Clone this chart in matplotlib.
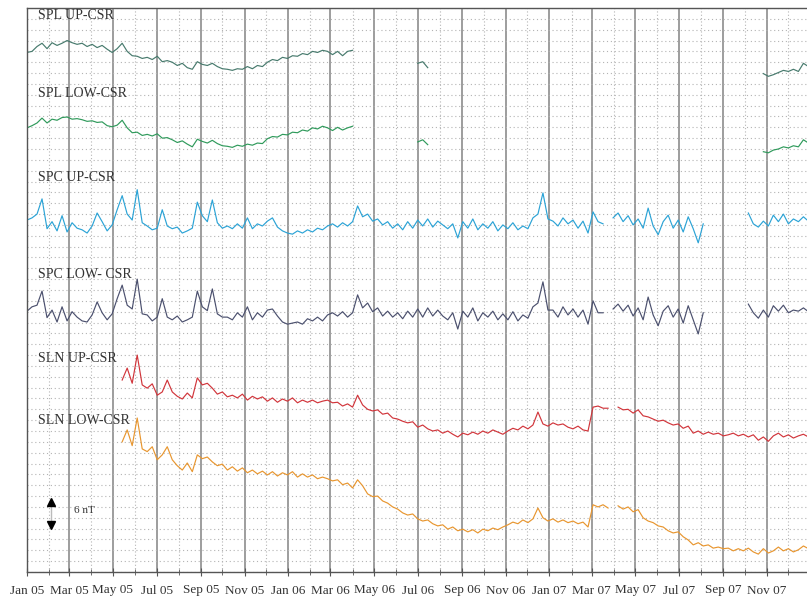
import numpy as np
import pandas as pd
import matplotlib
matplotlib.use("Agg")
import matplotlib.pyplot as plt
import matplotlib.dates as mdates

nan = np.nan

# weekly samples, Jan 2005 - Dec 2007, values in nT (anomaly of each trace)
weeks = pd.date_range("2005-01-01", periods=157, freq="7D")

spl_up = ([0.0, 0.2, 1.1, 1.7, 0.7, 1.8, 1.3, 1.7, 2.2, 1.8,
           1.5, 1.7, 1.1, 1.5, 0.9, 1.3, 0.6, 0.0, 0.7, 1.7,
           0.2, -0.6, -0.7, -1.1, -0.9, -1.3, -0.7, -1.7, -1.5, -1.8,
           -2.4, -2.0, -2.8, -3.1, -1.7, -2.2, -2.4, -2.0, -2.6, -3.0,
           -3.1, -3.3, -3.0, -3.1, -2.6, -3.0, -2.4, -2.6, -1.8, -1.3,
           -1.5, -0.9, -1.1, -0.6, -0.7, -0.2, -0.4, 0.2, 0.0, 0.4,
           0.2, -0.4, 0.2, -0.6, 0.2, 0.4]
          + [nan] * 12 + [-2.0, -1.7, -2.8] + [nan] * 66
          + [-3.9, -4.4, -4.1, -3.7, -3.3, -3.5, -3.1, -3.5, -2.0, -2.6])

spl_low = ([0.0, 0.4, 0.9, 1.8, 0.9, 1.6, 1.4, 1.9, 2.0, 1.6,
            1.7, 1.5, 1.2, 1.3, 1.0, 1.1, 0.4, 0.2, 0.5, 1.4,
            0.0, -0.9, -0.8, -1.4, -1.2, -1.5, -1.1, -1.9, -1.8, -2.2,
            -2.7, -2.4, -3.0, -3.5, -2.1, -2.5, -2.8, -2.3, -2.9, -3.3,
            -3.4, -3.6, -3.2, -3.4, -3.0, -3.2, -2.8, -2.9, -2.0, -1.6,
            -1.7, -1.2, -1.3, -0.8, -0.9, -0.4, -0.6, 0.0, -0.2, 0.3,
            0.0, -0.5, 0.1, -0.4, 0.0, 0.3]
           + [nan] * 12 + [-2.6, -2.2, -3.1] + [nan] * 66
           + [-4.4, -4.6, -4.1, -3.9, -3.5, -3.7, -3.3, -3.5, -2.2, -2.8])

spc_up = [0.9, 1.3, 2.0, 4.8, -0.7, 0.6, -1.1, 1.7, -1.3, 0.4,
          -0.6, -0.9, -1.5, -0.2, 2.2, 0.6, -1.1, 0.0, 2.8, 5.4,
          2.0, 0.9, 6.5, 0.4, -0.2, -0.9, -0.6, 2.8, -0.2, -0.7,
          -0.4, -1.5, -1.1, -0.6, 4.2, 1.7, 0.6, 4.6, 0.4, -0.6,
          -0.2, -0.7, 0.2, -0.6, 1.3, -0.7, 0.2, -0.2, 0.7, 1.3,
          -0.4, -1.1, -1.5, -1.7, -1.1, -1.5, -0.9, -1.3, -0.6, -0.9,
          -0.2, 0.2, -0.4, 0.4, -0.2, 0.6, 3.5, 1.5, 2.0, 0.7,
          1.1, 0.0, 0.6, -0.6, 0.2, -0.9,
          0.6, -0.6, 0.9, -0.2, 1.1, -0.4, 0.7, 0.0, -0.7, 0.2,
          -2.4, 0.6, -0.6, 1.1, -0.9, 0.2, -0.6, 0.6, -1.1, 0.0,
          -0.7, 0.4, -0.9, -0.2, -0.7, 1.3, 2.0, 5.9, 1.1, 0.7,
          -0.2, 1.3, 0.2, 0.9, -0.6, 0.7, -1.5, 2.4, 0.6, 0.2,
          nan, 1.3, 2.2, 0.6, 1.7, 0.0, 1.1, -0.6, 3.1, -0.2,
          -1.8, 0.6, 1.8, -0.6, 0.9, -1.3, 1.5, -0.7, -3.3, 0.2,
          nan, nan, nan, nan, nan, nan, nan, nan,
          2.2, 0.2, -0.4, 0.7, -0.2, 1.8, 0.6, 2.0, 0.2, 1.1, 0.6, 1.5, 0.7]

spc_low = [0.7, 1.5, 1.8, 4.4, -0.5, 0.9, -1.3, 1.5, -1.1, 0.6,
           -0.4, -1.1, -1.3, 0.0, 2.4, 0.4, -0.9, 0.2, 3.0, 5.5,
           1.8, 1.1, 6.6, 0.2, 0.0, -1.1, -0.4, 3.0, -0.4, -0.9,
           -0.2, -1.3, -0.9, -0.4, 4.4, 1.5, 0.8, 4.8, 0.2, -0.4,
           -0.4, -0.9, 0.4, -0.4, 1.5, -0.9, 0.4, -0.4, 0.9, 1.1,
           -0.2, -1.3, -1.7, -1.5, -1.3, -1.7, -0.7, -1.1, -0.4, -1.1,
           0.0, 0.4, -0.2, 0.6, -0.4, 0.4, 3.7, 1.3, 2.2, 0.6,
           1.3, -0.2, 0.7, -0.4, 0.4, -0.7,
           0.7, -0.4, 1.1, -0.4, 1.3, -0.2, 0.9, -0.2, -0.9, 0.4,
           -2.6, 0.7, -0.4, 1.3, -1.1, 0.4, -0.4, 0.7, -0.9, 0.2,
           -0.9, 0.6, -1.1, 0.0, -0.6, 1.5, 2.2, 6.1, 0.9, 0.9,
           -0.4, 1.5, 0.0, 1.1, -0.4, 0.9, -1.7, 2.6, 0.4, 0.4,
           nan, 1.1, 2.0, 0.7, 1.8, -0.2, 1.3, -0.9, 3.3, 0.0,
           -2.0, 0.7, 1.7, -0.4, 1.1, -1.5, 1.7, -0.9, -3.5, 0.4,
           nan, nan, nan, nan, nan, nan, nan, nan,
           2.0, 0.4, -0.6, 0.9, -0.4, 1.7, 0.7, 1.8, 0.4, 0.9, 0.7, 1.3, 0.6]

sln_up = [nan] * 19 + [
    0.0, 2.2, -0.6, 4.6, -0.9, -1.5, -0.7, -2.8, -2.2, 0.0,
    -2.2, -3.0, -3.5, -2.4, -3.3, 0.4, -0.9, -0.6, -1.5, -2.6,
    -2.2, -3.1, -2.8, -3.3, -2.6, -3.7, -3.0, -3.5, -3.1, -3.9,
    -3.3, -4.1, -3.5, -3.9, -3.3, -4.2, -3.7, -4.1, -3.7, -4.2,
    -3.9, -3.7, -4.2, -4.1, -4.8, -4.4, -5.0, -2.8, -4.6, -5.4,
    -5.7, -5.5, -6.3, -6.1, -7.0, -7.2, -7.6, -7.9, -7.7, -8.7,
    -8.3, -9.0, -9.4, -9.2, -9.8, -9.4, -10.0, -10.5, -9.8, -10.1,
    -9.6, -10.0, -9.4, -9.8, -9.2, -9.6, -10.0, -9.4, -8.9, -9.2,
    -8.5, -9.0, -8.3, -5.9, -8.1, -8.5, -7.9, -8.3, -8.1, -8.7,
    -9.0, -8.5, -9.2, -9.4, -5.0, -4.8, -5.2, -5.2, nan, -5.0,
    -5.5, -5.4, -6.1, -5.5, -6.6, -6.8, -7.2, -7.6, -7.4, -7.9,
    -8.3, -8.1, -8.9, -8.5, -9.8, -9.4, -10.0, -9.6, -10.0, -9.8,
    -10.3, -10.1, -9.8, -10.3, -10.0, -10.5, -10.1, -11.1, -10.5, -11.3,
    -10.3, -9.8, -10.5, -10.1, -10.7, -10.3, -10.0, -10.5]

sln_low = [nan] * 19 + [
    0.0, 2.2, -0.7, 4.4, -1.3, -1.8, -0.9, -3.3, -2.4, -0.9,
    -3.3, -4.4, -5.2, -3.9, -5.5, -2.4, -3.1, -2.8, -3.7, -4.4,
    -4.1, -5.2, -4.6, -5.4, -4.8, -5.7, -5.2, -5.9, -5.4, -6.1,
    -5.5, -6.3, -5.7, -6.1, -5.5, -6.5, -5.9, -6.5, -6.1, -6.8,
    -6.5, -6.8, -7.2, -7.0, -7.9, -7.6, -8.5, -7.0, -8.1, -9.6,
    -10.1, -10.0, -10.9, -11.3, -12.0, -12.4, -13.1, -13.5, -13.3, -14.2,
    -14.6, -14.4, -15.1, -15.5, -15.3, -16.1, -15.7, -16.4, -16.1, -16.6,
    -16.2, -16.8, -16.1, -16.4, -15.9, -16.2, -15.7, -15.3, -14.8, -15.1,
    -14.4, -14.9, -14.2, -12.2, -14.0, -14.6, -14.2, -14.8, -14.4, -14.9,
    -14.6, -15.1, -14.8, -15.7, -11.6, -12.0, -11.6, -12.2, nan, -11.8,
    -12.4, -12.0, -12.9, -12.5, -14.0, -14.6, -14.9, -15.5, -15.7, -16.4,
    -16.8, -16.6, -17.5, -18.1, -19.0, -18.6, -19.2, -19.0, -19.6, -19.4,
    -19.7, -19.6, -20.1, -19.7, -20.1, -19.6, -20.3, -20.7, -19.7, -20.5,
    -20.1, -19.4, -20.1, -19.7, -20.3, -19.9, -19.2, -19.7]

names = ["SPL UP-CSR", "SPL LOW-CSR", "SPC UP-CSR",
         "SPC LOW- CSR", "SLN UP-CSR", "SLN LOW-CSR"]
series = [spl_up, spl_low, spc_up, spc_low, sln_up, sln_low]

# layout: vertical offset of each trace (nT) and label height (axes fraction)
offsets = [95.8, 81.9, 64.0, 47.4, 35.4, 24.0]
label_y = [0.987, 0.849, 0.699, 0.527, 0.379, 0.268]
colors = ["#477a6d", "#2f9a5b", "#2ba3d6", "#4b506e", "#d1353b", "#e8962f"]

serif = ["Liberation Serif", "DejaVu Serif"]

fig = plt.figure(figsize=(8.07, 5.98), dpi=100)
ax = fig.add_axes([27 / 807, 26 / 598, 780 / 807, 564 / 598])

for vals, off, col in zip(series, offsets, colors):
    ax.plot(weeks, np.array(vals) + off, color=col, lw=0.85)

for name, ly in zip(names, label_y):
    ax.text(0.014, ly, name, transform=ax.transAxes, ha="left", va="center",
            fontsize=10, color="#333333", family=serif)

# 6 nT scale bar
xb = pd.Timestamp("2005-02-03")
ax.plot([xb, xb], [9.4, 12.2], color="#bbbbbb", lw=1.0)
ax.plot([xb], [12.9], marker="^", ms=6, color="black")
ax.plot([xb], [8.7], marker="v", ms=6, color="black")
ax.text(pd.Timestamp("2005-03-07"), 11.3, "6 nT", fontsize=8,
        va="center", ha="left", color="#333333", family=serif)

ax.set_xlim(pd.Timestamp("2005-01-01"), pd.Timestamp("2007-12-27"))
ax.set_ylim(0, 104)

ax.xaxis.set_major_locator(mdates.MonthLocator(bymonth=[1, 3, 5, 7, 9, 11]))
ax.xaxis.set_minor_locator(mdates.MonthLocator())
ax.xaxis.set_major_formatter(mdates.DateFormatter("%b %y"))
ax.set_yticks(np.arange(0, 105, 2))

ax.grid(axis="x", which="major", color="#8c8c8c", lw=1.2, ls="-")
ax.grid(axis="x", which="minor", color="#b5b5b5", lw=0.8, ls=(0, (1, 2)))
ax.grid(axis="y", which="major", color="#b3b3b3", lw=0.8, ls=(0, (1, 2.5)))
ax.set_axisbelow(True)

ax.tick_params(axis="y", left=False, labelleft=False)
ax.tick_params(axis="x", which="major", direction="inout", length=6,
               color="#555555", labelsize=9.5, pad=6)
ax.tick_params(axis="x", which="minor", direction="inout", length=4,
               color="#555555")
for lab in ax.get_xticklabels():
    lab.set_family(serif)
    lab.set_color("#333333")

for side in ["left", "top", "bottom"]:
    ax.spines[side].set_color("#555555")
    ax.spines[side].set_linewidth(1.0)
ax.spines["right"].set_visible(False)

fig.savefig("out.png", dpi=100)
